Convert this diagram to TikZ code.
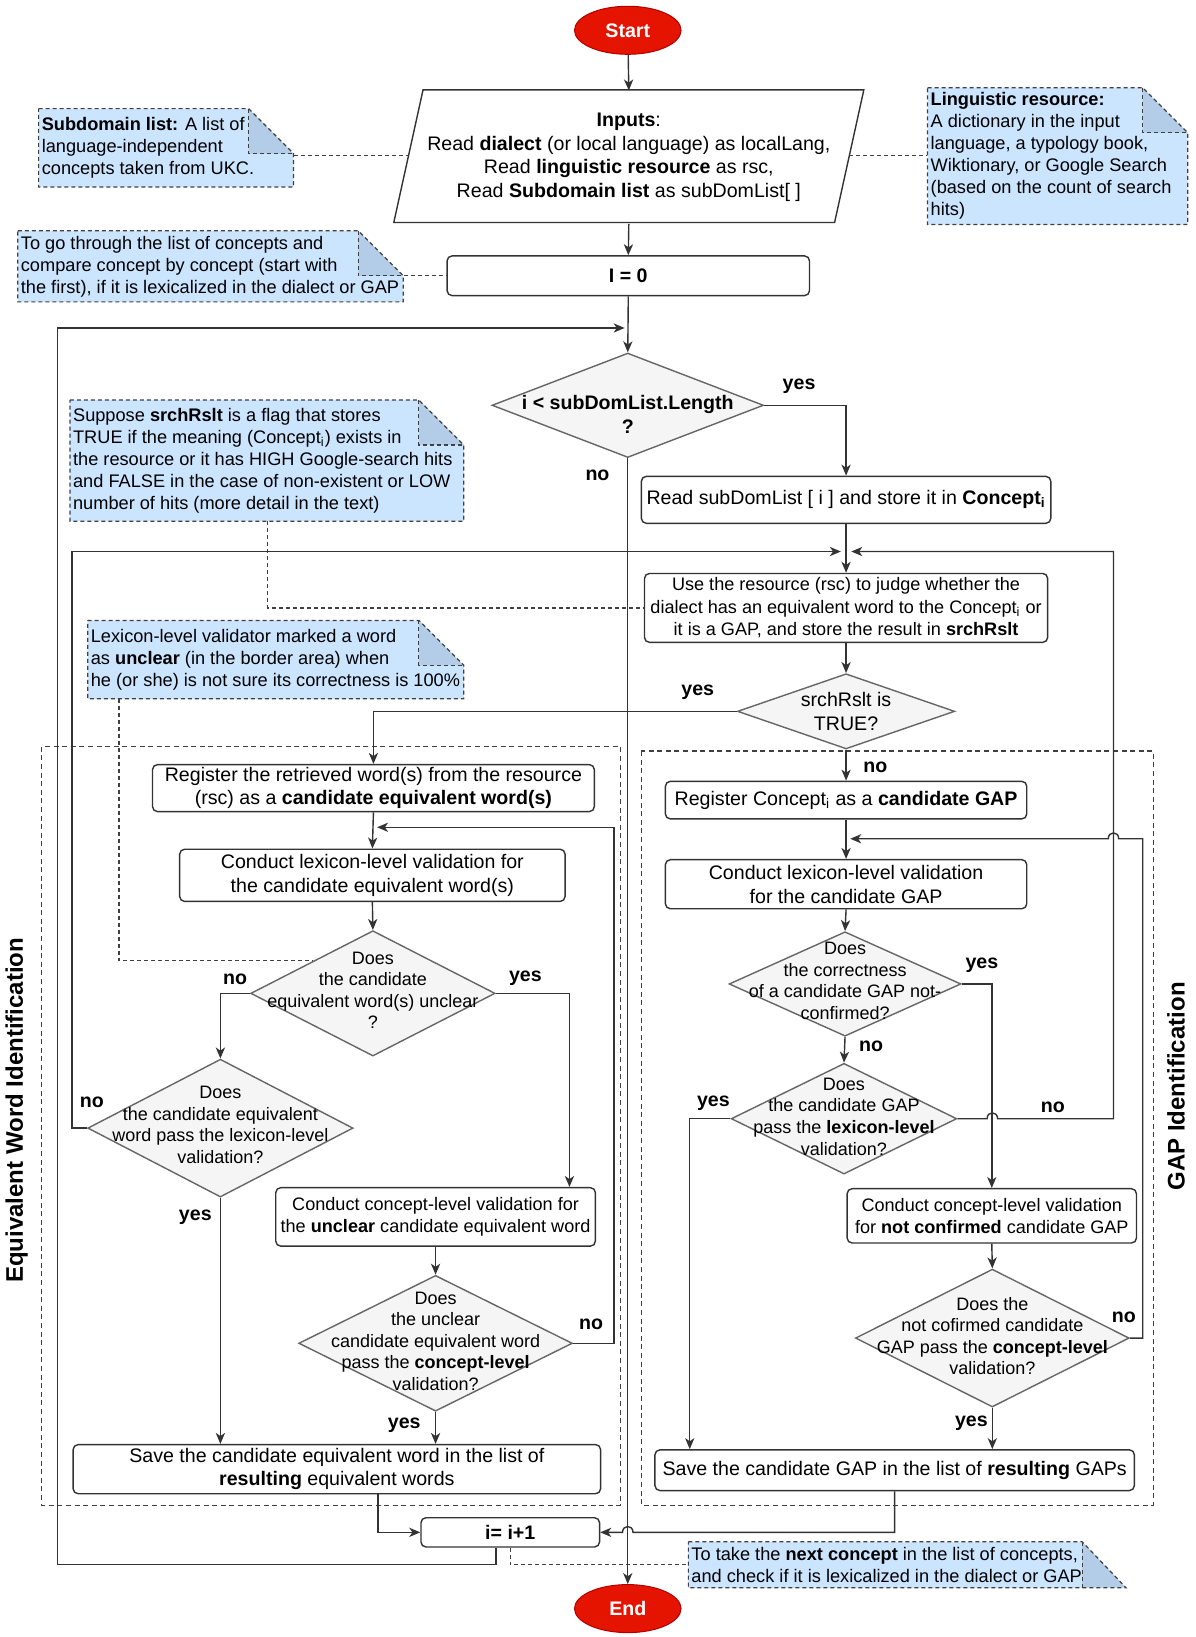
\documentclass[tikz,border=0pt]{standalone}
\usepackage{fontspec}
\setmainfont{Liberation Sans}
\usetikzlibrary{shapes.geometric,arrows.meta,calc}
\definecolor{notefill}{HTML}{CCE5FF}
\definecolor{notefold}{HTML}{B3CDE8}
\definecolor{diafill}{HTML}{F5F5F5}
\definecolor{termred}{HTML}{E51400}
\definecolor{termedge}{HTML}{B20000}
\definecolor{lncol}{HTML}{333333}
\newcommand\fb{\fontsize{9.8}{11.8}\selectfont}
\newcommand\fs{\fontsize{9.05}{11.2}\selectfont}
\newcommand\fn{\fontsize{9.1}{11}\selectfont}
\newcommand\fd{\fontsize{9}{10.8}\selectfont}
\newcommand\BX[7][]{\node[rbox,#1,minimum width={(#5-#3)*0.5223pt},minimum height={(#6-#4)*0.5223pt}] (#2) at ({(#3+#5)/2},{(#4+#6)/2}) {#7};}
\newcommand\DIA[6]{\node[dia,minimum width={2*#4*0.5223pt},minimum height={2*#5*0.5223pt}] (#1) at (#2,#3) {};}
\newcommand\NOTE[6]{%
 \fill[notefill] (#2,#3) -- ({#4-43},#3) -- (#4,{#3+43}) -- (#4,#5) -- (#2,#5) -- cycle;
 \fill[notefold] ({#4-43},#3) -- (#4,{#3+43}) -- ({#4-43},{#3+43}) -- cycle;
 \draw[notedash] (#2,#3) -- ({#4-43},#3) -- (#4,{#3+43}) -- (#4,#5) -- (#2,#5) -- cycle;
 \draw[notedash] ({#4-43},#3) -- ({#4-43},{#3+43}) -- (#4,{#3+43});
 \node[inner sep=0pt,minimum width={(#4-#2)*0.5223pt},minimum height={(#5-#3)*0.5223pt}] (#1) at ({(#2+#4)/2},{(#3+#5)/2}) {};
 \node[notetxt,anchor=west] (#1t) at ($(#1.west)+(3,0)$) {#6};}
\tikzset{
 rbox/.style={draw=lncol, line width=0.7pt, rounded corners=2.5pt, fill=white, align=center, inner sep=0pt, font=\fb},
 dia/.style={diamond, draw=black!60, line width=0.7pt, fill=diafill, inner sep=0pt},
 diatxt/.style={align=center, inner sep=0pt, font=\fd},
 term/.style={ellipse, fill=termred, draw=termedge, line width=0.5pt, text=white, font=\bfseries\fb, inner sep=0pt},
 arr/.style={draw=lncol, line width=0.7pt, -{Stealth[length=5.5pt,width=4.6pt,inset=1.6pt]}},
 plain/.style={draw=lncol, line width=0.7pt},
 notedash/.style={draw=black!75, line width=0.6pt, dash pattern=on 2pt off 1.5pt},
 grp/.style={draw=black!75, line width=0.55pt, dash pattern=on 2.5pt off 1.8pt},
 notetxt/.style={align=left, inner sep=0pt, font=\fn},
 lab/.style={font=\bfseries\fb, inner sep=0pt},
}
\begin{document}
\begin{tikzpicture}[x=0.5223pt,y=-0.5223pt]
\fill[white] (0,0) rectangle (1145,1567.2);
\useasboundingbox (0,0) rectangle (1145,1567.2);

% groups
\draw[grp] (40,715) rectangle (594,1441);
\draw[grp] (614,719) rectangle (1104,1441);
\node[rotate=90, font=\bfseries\fontsize{12}{14}\selectfont, inner sep=0pt] (gl) at (16,1063) {Equivalent Word Identification};
\node[rotate=90, font=\bfseries\fontsize{12}{14}\selectfont, inner sep=0pt] (gr) at (1126,1040) {GAP Identification};

% notes
\NOTE{subnote}{37}{104}{281}{179}{\textbf{Subdomain list:} A list of\\language-independent\\concepts taken from UKC.}
\NOTE{lingnote}{888}{84}{1137}{215}{\textbf{Linguistic resource:}\\A dictionary in the input\\language, a typology book,\\Wiktionary, or Google Search\\(based on the count of search\\hits)}
\NOTE{gonote}{17}{221}{386}{289}{To go through the list of concepts and\\compare concept by concept (start with\\the first), if it is lexicalized in the dialect or GAP}
\NOTE{supnote}{67}{383}{444}{499}{Suppose \textbf{srchRslt} is a flag that stores\\TRUE if the meaning (Concept\textsubscript{i}) exists in\\the resource or it has HIGH Google-search hits\\and FALSE in the case of non-existent or LOW\\number of hits (more detail in the text)}
\NOTE{uncnote}{84}{594}{444}{669}{Lexicon-level validator marked a word\\as \textbf{unclear} (in the border area) when\\he (or she) is not sure its correctness is 100\%}
% next-concept note
\fill[notefill] (659,1476) -- (1036,1476) -- (1036,1520) -- (659,1520) -- cycle;
\fill[notefold] (1036,1476) -- (1078,1520) -- (1036,1520) -- cycle;
\draw[notedash] (659,1476) -- (1036,1476) -- (1078,1520) -- (659,1520) -- cycle;
\draw[notedash] (1036,1476) -- (1036,1520);
\node[inner sep=0pt, minimum width={377*0.5223pt}, minimum height={44*0.5223pt}] (nextnote) at (847.5,1498) {};
\node[notetxt,anchor=west] (nextnotet) at ($(nextnote.west)+(3,0)$) {To take the \textbf{next concept} in the list of concepts,\\and check if it is lexicalized in the dialect or GAP};

% terminals
\node[term, minimum width={102*0.5223pt}, minimum height={46*0.5223pt}] (start) at (601,29) {Start};
\node[term, minimum width={102*0.5223pt}, minimum height={46*0.5223pt}] (end) at (601,1540) {End};

% inputs parallelogram
\draw[plain, fill=white] (405,86) -- (827,86) -- (799,213) -- (377,213) -- cycle;
\node[inner sep=0pt, minimum width={400*0.5223pt}, minimum height={127*0.5223pt}, align=center, font=\fb] (inp) at (602,150.5) {\textbf{Inputs}:\\Read \textbf{dialect} (or local language) as localLang,\\Read \textbf{linguistic resource} as rsc,\\Read \textbf{Subdomain list} as subDomList[ ]};
\coordinate (inpL) at (391,149);
\coordinate (inpR) at (813,149);

% boxes
\BX{i0}{428}{245}{775}{283}{\textbf{I = 0}}
\BX{read}{614}{456}{1006}{501}{Read subDomList [ i ] and store it in \textbf{Concept\textsubscript{i}}}
\BX[font=\fs]{use}{617}{549}{1003}{615}{Use the resource (rsc) to judge whether the\\dialect has an equivalent word to the Concept\textsubscript{i} or\\it is a GAP, and store the result in \textbf{srchRslt}}
\BX{reg}{146}{732}{569}{777}{Register the retrieved word(s) from the resource\\(rsc) as a \textbf{candidate equivalent word(s)}}
\BX{lex}{172}{813}{541}{863}{Conduct lexicon-level validation for\\the candidate equivalent word(s)}
\BX[font=\fs]{conc}{264}{1137}{570}{1193}{Conduct concept-level validation for\\the \textbf{unclear} candidate equivalent word}
\BX{save}{70}{1383}{575}{1430}{Save the candidate equivalent word in the list of\\\textbf{resulting} equivalent words}
\BX{inc}{403}{1453}{574}{1481}{\textbf{i= i+1}}
\BX{regg}{637}{748}{983}{784}{Register Concept\textsubscript{i} as a \textbf{candidate GAP}}
\BX{lexg}{637}{823}{983}{870}{Conduct lexicon-level validation\\for the candidate GAP}
\BX[font=\fs]{concg}{811}{1138}{1088}{1190}{Conduct concept-level validation\\for \textbf{not confirmed} candidate GAP}
\BX{saveg}{627}{1388}{1086}{1427}{Save the candidate GAP in the list of \textbf{resulting} GAPs}

% diamonds
\DIA{d1}{601}{388}{130}{50}{}
\node[diatxt, font=\bfseries\fb] (d1t) at (601,397) {i < subDomList.Length\\?};
\DIA{ds}{810}{681}{104}{36}{}
\node[diatxt, font=\fb] (dst) at (ds) {srchRslt is\\TRUE?};
\DIA{dunc}{357}{951}{117}{60}{}
\node[diatxt] (dunct) at (357,948) {Does\\the candidate\\equivalent word(s) unclear\\?};
\DIA{dlex}{211}{1080}{127}{66}{}
\node[diatxt] (dlext) at (211,1077) {Does\\the candidate equivalent\\word pass the lexicon-level\\validation?};
\DIA{d3}{417}{1286}{131}{65}{}
\node[diatxt] (d3t) at (417,1284) {Does\\the unclear\\candidate equivalent word\\pass the \textbf{concept-level}\\validation?};
\DIA{g1}{809}{942}{111}{50}{}
\node[diatxt] (g1t) at (809,939) {Does\\the correctness\\of a candidate GAP not-\\confirmed?};
\DIA{g2}{808}{1071}{108}{53}{}
\node[diatxt] (g2t) at (808,1069) {Does\\the candidate GAP\\pass the \textbf{lexicon-level}\\validation?};
\DIA{g3}{950}{1281}{131}{66}{}
\node[diatxt] (g3t) at (950,1279) {Does the\\not cofirmed candidate\\GAP pass the \textbf{concept-level}\\validation?};

% note connectors
\draw[notedash] (subnote.east |- inpL) -- (inpL);
\draw[notedash] (inpR) -- (lingnote.west |- inpR);
\draw[notedash] (gonote.east |- i0.west) -- (i0.west);
\coordinate (supx) at (256,499);
\draw[notedash] (supx) |- (use.west);
\coordinate (uncx) at (114,669);
\coordinate (uncend) at ($(dunc.north)!{29/60}!(dunc.west)$);
\draw[notedash] (uncx) |- (uncend);
\draw[notedash] (inc.south) |- (nextnote.west);

% main flow
\draw[arr] (start) -- (inp.north);
\draw[arr] (inp.south) -- (i0.north);
\draw[arr] (i0.south) -- (d1.north);
\coordinate (incL) at ($(inc.south)+(-13.5,0)$);
\coordinate (loopbot) at (55,1498);
\coordinate (jtop) at (598,314);
\draw[arr] (incL) |- (loopbot) |- (jtop);
\draw[arr] (d1.east) -| (read.north);
\draw[arr] (d1.south) -- (end.north);
\draw[arr] (read.south) -- (use.north);
\coordinate (cL) at (69,528);
\coordinate (jl) at (805,528);
\draw[arr] (dlex.west) -| (cL) -- (jl);
\coordinate (jr) at (815,528);
\draw[arr] (g2.east) -- (945,1071) .. controls (945,1063.5) and (955,1063.5) .. (955,1071) -- (1066,1071) -- (1066,528) -- (jr);
\draw[arr] (use.south) -- (ds.north);
\draw[arr] (ds.west) -| (reg.north);
\draw[arr] (ds.south) -- (regg.north);
\draw[arr] (reg.south) -- (lex.north);
\coordinate (cR) at (588,792);
\coordinate (jret) at (361,792);
\draw[arr] (d3.east) -| (cR) -- (jret);
\draw[arr] (lex.south) -- (dunc.north);
\draw[arr] (dunc.west) -| (dlex.north);
\coordinate (concin) at ($(conc.north east)+(-25.5,0)$);
\draw[arr] (dunc.east) -| (concin);
\draw[arr] (dlex.south) -- (dlex.south |- save.north);
\draw[arr] (conc.south) -- (d3.north);
\draw[arr] (d3.south) -- (d3.south |- save.north);
\coordinate (saveout) at ($(save.south)+(39.5,0)$);
\draw[arr] (saveout) |- (inc.west);
\draw[arr] (saveg.south) |- (606,1467) .. controls (606,1459.5) and (596,1459.5) .. (596,1467) -- (inc.east);
\draw[arr] (regg.south) -- (lexg.north);
\coordinate (cRg) at (1094,803);
\coordinate (jretg) at (814,803);
\draw[arr] (g3.east) -| (cRg) -- (1071,803) .. controls (1071,795.5) and (1061,795.5) .. (1061,803) -- (jretg);
\draw[arr] (lexg.south) -- (g1.north);
\draw[arr] (g1.east) -| (concg.north);
\draw[arr] (g1.south) -- (g2.north);
\coordinate (savegin) at ($(saveg.north west)+(34,0)$);
\draw[arr] (g2.west) -| (savegin);
\draw[arr] (concg.south) -- (g3.north);
\draw[arr] (g3.south) -- (g3.south |- saveg.north);

% labels
\node[lab] (l1) at (765,370) {yes};
\node[lab] (l2) at (572,455) {no};
\node[lab] (l3) at (668,663) {yes};
\node[lab] (l4) at (838,735) {no};
\node[lab] (l5) at (225,938) {no};
\node[lab] (l6) at (503,937) {yes};
\node[lab] (l7) at (88,1055) {no};
\node[lab] (l8) at (187,1165) {yes};
\node[lab] (l9) at (566,1268) {no};
\node[lab] (l10) at (387,1364) {yes};
\node[lab] (l11) at (940,924) {yes};
\node[lab] (l12) at (834,1002) {no};
\node[lab] (l13) at (683,1056) {yes};
\node[lab] (l14) at (1008,1060) {no};
\node[lab] (l15) at (1076,1261) {no};
\node[lab] (l16) at (930,1363) {yes};
\end{tikzpicture}
\end{document}
